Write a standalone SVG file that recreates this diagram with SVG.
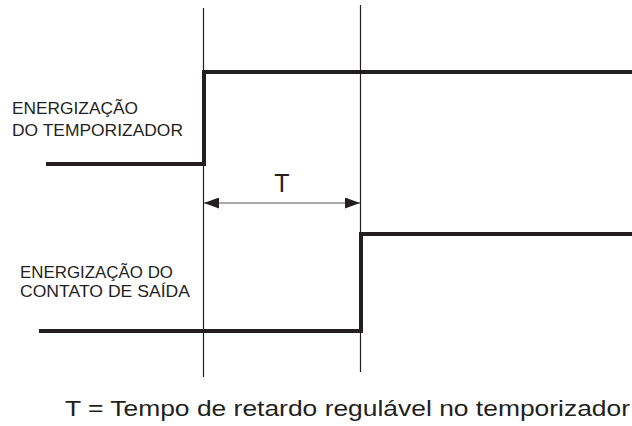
<svg xmlns="http://www.w3.org/2000/svg" width="632" height="426" viewBox="0 0 632 426">
<style>
.sig{fill:none;stroke:#231f20;stroke-width:4;stroke-linejoin:miter}
.ref{stroke:#231f20;stroke-width:1.2}
.dim{stroke:#555;stroke-width:1.2}
.lbl{font-family:"Liberation Sans",Arial,sans-serif;font-size:16.5px;fill:#231f20}
.cap{font-family:"Liberation Sans",Arial,sans-serif;font-size:22.5px;fill:#231f20}
</style>
<defs>
<marker id="ah" viewBox="0 0 15 11" refX="15" refY="5.5" markerWidth="15" markerHeight="11" markerUnits="userSpaceOnUse" orient="auto-start-reverse">
<path d="M0,0 L15,5.5 L0,11 Z" fill="#231f20"/>
</marker>
</defs>
<g id="connectors">
<line class="ref" x1="203.5" y1="8" x2="203.5" y2="377"/>
<line class="ref" x1="360.5" y1="5" x2="360.5" y2="372"/>
<line class="dim" x1="204" y1="203" x2="360" y2="203" marker-start="url(#ah)" marker-end="url(#ah)"/>
</g>
<g id="signal-timer">
<polyline class="sig" points="46,164 204,164 204,72 632,72"/>
</g>
<g id="signal-output">
<polyline class="sig" points="39,331 361,331 361,234 632,234"/>
</g>
<g id="label-timer">
<text class="lbl" x="12" y="114" textLength="126" lengthAdjust="spacingAndGlyphs">ENERGIZAÇÃO</text>
<text class="lbl" x="12" y="136" textLength="171" lengthAdjust="spacingAndGlyphs">DO TEMPORIZADOR</text>
</g>
<g id="label-output">
<text class="lbl" x="20" y="278" textLength="153" lengthAdjust="spacingAndGlyphs">ENERGIZAÇÃO DO</text>
<text class="lbl" x="20" y="297" textLength="170" lengthAdjust="spacingAndGlyphs">CONTATO DE SAÍDA</text>
</g>
<g id="label-T">
<text class="cap" x="282" y="192" text-anchor="middle" style="font-size:25px">T</text>
</g>
<g id="caption">
<text class="cap" x="65" y="416" textLength="565" lengthAdjust="spacingAndGlyphs">T = Tempo de retardo regulável no temporizador</text>
</g>
</svg>
